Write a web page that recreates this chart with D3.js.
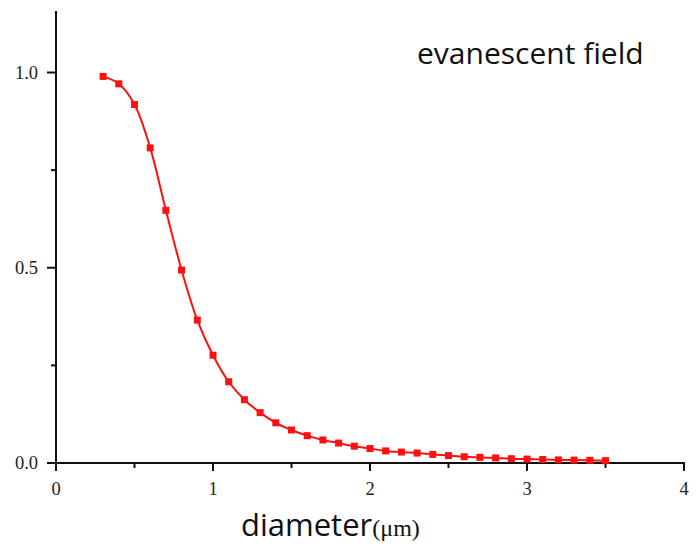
<!DOCTYPE html>
<html lang="en">
<head>
    <meta charset="UTF-8">
    <title>Evanescent field</title>
    <script src="https://d3js.org/d3.v7.min.js"></script>
    <style>
        body {
            margin: 0;
            padding: 0;
            background: #fff;
        }

        .tick-label {
            font-family: "Liberation Serif", serif;
            font-size: 18.5px;
            fill: #222;
        }

        .axis-line {
            stroke: #111;
            stroke-width: 2px;
            fill: none;
        }

        .curve {
            fill: none;
            stroke: #ff1010;
            stroke-width: 2px;
        }

        .marker {
            fill: #ff1010;
        }
    </style>
</head>
<body>
<div id="chart"></div>
<script>

    // diameter (um) and relative evanescent field
    const diameters = [0.3, 0.4, 0.5, 0.6, 0.7, 0.8, 0.9, 1.0, 1.1, 1.2, 1.3, 1.4, 1.5, 1.6, 1.7,
        1.8, 1.9, 2.0, 2.1, 2.2, 2.3, 2.4, 2.5, 2.6, 2.7, 2.8, 2.9, 3.0, 3.1, 3.2, 3.3, 3.4, 3.5];
    const fieldValues = [0.990, 0.971, 0.918, 0.807, 0.647, 0.494, 0.366, 0.276, 0.208, 0.162, 0.129,
        0.103, 0.0845, 0.070, 0.059, 0.051, 0.043, 0.037, 0.031, 0.028, 0.0255, 0.022, 0.019, 0.016,
        0.0145, 0.013, 0.011, 0.010, 0.009, 0.008, 0.0075, 0.007, 0.006];

    const xTicks = [0, 1, 2, 3, 4];
    const xMinorTicks = [0.5, 1.5, 2.5, 3.5];
    const yTicks = [0.0, 0.5, 1.0];
    const yMinorTicks = [0.25, 0.75];

    const width = 697, height = 551;

    const svg = d3.select("#chart")
        .append("svg")
        .attr("width", width)
        .attr("height", height);

    const x = d3.scaleLinear().domain([0, 4]).range([56, 684]);
    const y = d3.scaleLinear().domain([0, 1]).range([463, 72.5]);
    const yTop = 11;

    // x axis
    const xAxis = svg.append("g").attr("transform", `translate(0,${y(0)})`);
    xAxis.append("line")
        .attr("class", "axis-line")
        .attr("x1", x(0) - 1).attr("x2", x(4) + 1);
    xAxis.selectAll(".major")
        .data(xTicks)
        .enter().append("line")
        .attr("class", "axis-line")
        .attr("x1", d => x(d)).attr("x2", d => x(d))
        .attr("y1", 0).attr("y2", 8);
    xAxis.selectAll(".minor")
        .data(xMinorTicks)
        .enter().append("line")
        .attr("class", "axis-line")
        .attr("x1", d => x(d)).attr("x2", d => x(d))
        .attr("y1", 0).attr("y2", 5);
    xAxis.selectAll("text")
        .data(xTicks)
        .enter().append("text")
        .attr("class", "tick-label")
        .attr("x", d => x(d))
        .attr("y", 32)
        .attr("text-anchor", "middle")
        .text(d => d);

    // y axis
    const yAxis = svg.append("g").attr("transform", `translate(${x(0)},0)`);
    yAxis.append("line")
        .attr("class", "axis-line")
        .attr("y1", y(0) + 1).attr("y2", yTop);
    yAxis.selectAll(".major")
        .data(yTicks)
        .enter().append("line")
        .attr("class", "axis-line")
        .attr("y1", d => y(d)).attr("y2", d => y(d))
        .attr("x1", 0).attr("x2", -9);
    yAxis.selectAll(".minor")
        .data(yMinorTicks)
        .enter().append("line")
        .attr("class", "axis-line")
        .attr("y1", d => y(d)).attr("y2", d => y(d))
        .attr("x1", 0).attr("x2", -5);
    yAxis.selectAll("text")
        .data(yTicks)
        .enter().append("text")
        .attr("class", "tick-label")
        .attr("x", -18)
        .attr("y", d => y(d))
        .attr("dy", "0.35em")
        .attr("text-anchor", "end")
        .text(d => d.toFixed(1));

    // axis title
    const title = svg.append("text")
        .attr("x", 241)
        .attr("y", 536);
    title.append("tspan")
        .style("font-family", "'Open Sans', sans-serif")
        .style("font-size", "31px")
        .attr("fill", "#111")
        .text("diameter");
    title.append("tspan")
        .style("font-family", "'Liberation Serif', serif")
        .style("font-size", "24px")
        .attr("fill", "#111")
        .text("(\u03bcm)");

    // annotation
    svg.append("text")
        .attr("x", 417)
        .attr("y", 64)
        .style("font-family", "'Open Sans', sans-serif")
        .style("font-size", "30px")
        .attr("fill", "#111")
        .text("evanescent field");

    // curve and markers
    const points = diameters.map((d, i) => [d, fieldValues[i]]);

    const line = d3.line()
        .x(d => x(d[0]))
        .y(d => y(d[1]))
        .curve(d3.curveCatmullRom.alpha(0.5));

    svg.append("path")
        .datum(points)
        .attr("class", "curve")
        .attr("d", line);

    svg.selectAll(".marker")
        .data(points)
        .enter().append("rect")
        .attr("class", "marker")
        .attr("x", d => x(d[0]) - 3.5)
        .attr("y", d => y(d[1]) - 3.5)
        .attr("width", 7)
        .attr("height", 7);

</script>
</body>
</html>
